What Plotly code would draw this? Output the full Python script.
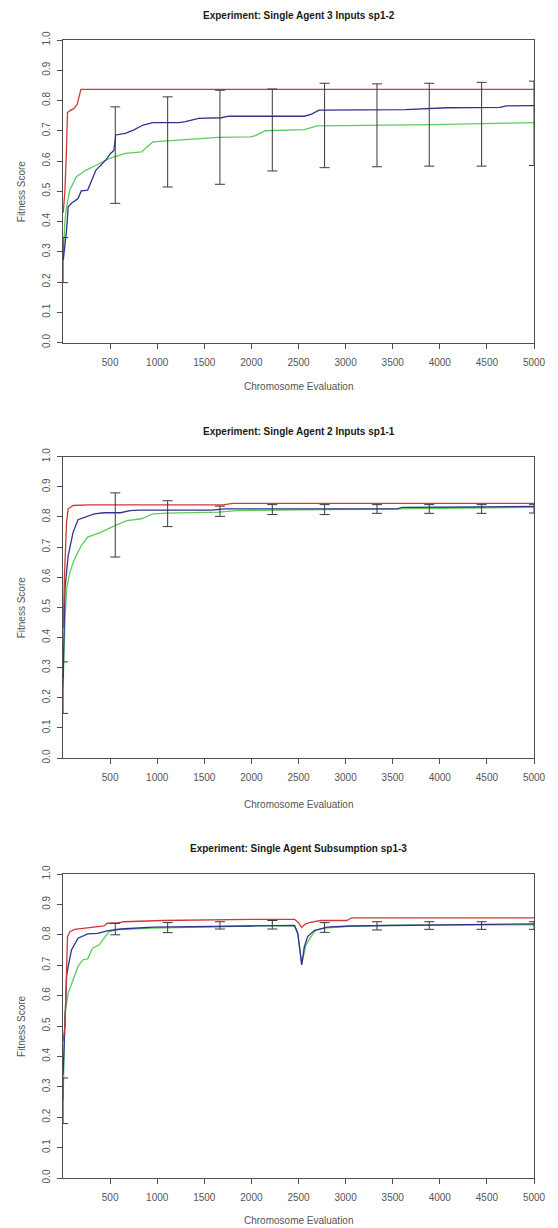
import plotly.graph_objects as go

# ---------------- data ----------------
titles = ["Experiment: Single Agent 3 Inputs sp1-2",
          "Experiment: Single Agent 2 Inputs sp1-1",
          "Experiment: Single Agent Subsumption sp1-3"]
x_title = "Chromosome Evaluation"
y_title = "Fitness Score"
x_ticks = [500, 1000, 1500, 2000, 2500, 3000, 3500, 4000, 4500, 5000]
y_ticks = [0.0, 0.1, 0.2, 0.3, 0.4, 0.5, 0.6, 0.7, 0.8, 0.9, 1.0]

bar_x = [1, 555, 1111, 1666, 2222, 2777, 3333, 3888, 4444, 5000]

# Panel 1
p1_red_x = [3, 20, 35, 48, 80, 110, 150, 190, 5000]
p1_red_y = [0.43, 0.50, 0.62, 0.76, 0.768, 0.772, 0.786, 0.837, 0.837]
p1_blue_x = [3, 21, 38, 55, 90, 159, 194, 262, 350, 453, 505, 540, 560, 661, 747, 851,
             954, 1231, 1300, 1439, 1680, 1760, 2562, 2640, 2718, 3634, 4049, 4080, 4637, 4706, 5000]
p1_blue_y = [0.273, 0.316, 0.372, 0.449, 0.460, 0.476, 0.501, 0.504, 0.570, 0.603, 0.625, 0.635, 0.686,
             0.691, 0.702, 0.719, 0.727, 0.727, 0.730, 0.741, 0.743, 0.748, 0.748, 0.755, 0.768, 0.770,
             0.774, 0.776, 0.777, 0.782, 0.783]
p1_green_x = [1, 21, 38, 73, 142, 246, 350, 488, 661, 833, 954, 1110, 1646, 1992, 2044, 2147,
              2562, 2700, 3945, 4706, 5000]
p1_green_y = [0.272, 0.405, 0.449, 0.504, 0.548, 0.570, 0.586, 0.608, 0.625, 0.630, 0.663, 0.666,
              0.678, 0.680, 0.684, 0.700, 0.704, 0.716, 0.720, 0.725, 0.727]
p1_bar_lo = [0.198, 0.460, 0.514, 0.523, 0.567, 0.578, 0.581, 0.583, 0.583, 0.585]
p1_bar_hi = [0.347, 0.779, 0.812, 0.834, 0.838, 0.857, 0.855, 0.857, 0.860, 0.864]

# Panel 2
p2_red_x = [3, 15, 38, 55, 107, 262, 1700, 1800, 5000]
p2_red_y = [0.43, 0.60, 0.782, 0.827, 0.838, 0.840, 0.840, 0.845, 0.845]
p2_blue_x = [1, 21, 55, 107, 159, 228, 332, 436, 609, 712, 816, 1577, 1715, 3550, 3600, 4400, 5000]
p2_blue_y = [0.264, 0.562, 0.672, 0.749, 0.791, 0.799, 0.810, 0.814, 0.814, 0.821, 0.823, 0.823,
             0.827, 0.827, 0.832, 0.833, 0.835]
p2_green_x = [1, 20, 38, 73, 124, 194, 262, 401, 557, 678, 833, 954, 1110, 1646, 1853, 3600, 5000]
p2_green_y = [0.235, 0.45, 0.562, 0.617, 0.661, 0.705, 0.733, 0.749, 0.772, 0.788, 0.794, 0.810,
              0.813, 0.816, 0.821, 0.827, 0.832]
p2_bar_lo = [0.148, 0.667, 0.768, 0.802, 0.808, 0.808, 0.812, 0.812, 0.812, 0.813]
p2_bar_hi = [0.319, 0.880, 0.854, 0.836, 0.841, 0.841, 0.841, 0.841, 0.841, 0.842]

# Panel 3
p3_red_x = [1, 21, 48, 73, 124, 262, 436, 470, 574, 643, 1058, 1992, 2458, 2500, 2534, 2570,
            2614, 2735, 3012, 3064, 5000]
p3_red_y = [0.45, 0.499, 0.794, 0.810, 0.818, 0.822, 0.829, 0.838, 0.838, 0.843, 0.847, 0.851,
            0.851, 0.840, 0.824, 0.835, 0.840, 0.847, 0.847, 0.856, 0.856]
p3_blue_x = [1, 20, 38, 55, 90, 159, 262, 366, 470, 609, 954, 1992, 2458, 2493, 2534, 2562, 2597,
             2666, 2804, 3046, 3668, 4706, 5000]
p3_blue_y = [0.34, 0.55, 0.663, 0.696, 0.750, 0.789, 0.803, 0.805, 0.813, 0.819, 0.825, 0.829,
             0.831, 0.805, 0.701, 0.761, 0.794, 0.814, 0.825, 0.829, 0.832, 0.836, 0.836]
p3_green_x = [1, 12, 21, 55, 107, 159, 211, 262, 314, 384, 436, 488, 557, 954, 1992, 2458, 2493,
              2534, 2580, 2632, 2683, 2770, 3046, 3500, 5000]
p3_green_y = [0.255, 0.40, 0.542, 0.608, 0.652, 0.696, 0.718, 0.721, 0.756, 0.767, 0.789, 0.810,
              0.816, 0.822, 0.829, 0.830, 0.80, 0.705, 0.767, 0.794, 0.815, 0.822, 0.828, 0.832, 0.833]
p3_bar_lo = [0.179, 0.800, 0.807, 0.819, 0.819, 0.808, 0.816, 0.818, 0.818, 0.818]
p3_bar_hi = [0.329, 0.838, 0.840, 0.843, 0.847, 0.840, 0.843, 0.843, 0.843, 0.843]

panels = [
    (p1_red_x, p1_red_y, p1_blue_x, p1_blue_y, p1_green_x, p1_green_y, p1_bar_lo, p1_bar_hi),
    (p2_red_x, p2_red_y, p2_blue_x, p2_blue_y, p2_green_x, p2_green_y, p2_bar_lo, p2_bar_hi),
    (p3_red_x, p3_red_y, p3_blue_x, p3_blue_y, p3_green_x, p3_green_y, p3_bar_lo, p3_bar_hi),
]

# ---------------- style ----------------
RED = "#cc3a3a"
BLUE = "#32328e"
GREEN = "#5ccc5c"
BAR = "#3a3a3a"
AXC = "#505050"
TXT = "#555555"
FONT = "Liberation Sans, Arial, sans-serif"
TFONT = "Liberation Sans Narrow, Arial Narrow, Liberation Sans, sans-serif"

W, H = 558, 1228
ML, MR, MT, MB = 63, 13, 40, 50
PH = H - MT - MB
PW = W - ML - MR


def py2paper(py):
    return (H - MB - py) / PH


def px2paper(px):
    return (px - ML) / PW


# pixel boxes (top, bottom) for each panel
boxes = [(40, 342.5), (456.7, 758), (874, 1178)]
title_py = [15, 432, 848]
xtitle_py = [387, 804, 1221]

fig = go.Figure()
layout = dict(width=W, height=H, paper_bgcolor="white", plot_bgcolor="white",
              margin=dict(l=ML, r=MR, t=MT, b=MB), showlegend=False, annotations=[])

for i, (rx, ry, bx, by, gx, gy, lo, hi) in enumerate(panels):
    n = "" if i == 0 else str(i + 1)
    xa, ya = "x" + n, "y" + n
    fig.add_trace(go.Scatter(x=gx, y=gy, mode="lines", line=dict(color=GREEN, width=1.3),
                             xaxis=xa, yaxis=ya))
    fig.add_trace(go.Scatter(x=bx, y=by, mode="lines", line=dict(color=BLUE, width=1.3),
                             xaxis=xa, yaxis=ya))
    fig.add_trace(go.Scatter(x=rx, y=ry, mode="lines", line=dict(color=RED, width=1.3),
                             xaxis=xa, yaxis=ya))
    mid = [(a + b) / 2 for a, b in zip(lo, hi)]
    up = [b - m for b, m in zip(hi, mid)]
    dn = [m - a for a, m in zip(lo, mid)]
    fig.add_trace(go.Scatter(x=bar_x, y=mid, mode="markers",
                             marker=dict(size=1, color="rgba(0,0,0,0)"),
                             error_y=dict(type="data", symmetric=False, array=up, arrayminus=dn,
                                          color=BAR, thickness=1, width=5),
                             xaxis=xa, yaxis=ya))
    top, bot = boxes[i]
    layout["xaxis" + n] = dict(domain=[0, 1], range=[0, 5000], anchor=ya,
                               tickvals=x_ticks, ticktext=[str(v) for v in x_ticks],
                               ticks="outside", ticklen=5, tickcolor=AXC, tickwidth=1,
                               showline=True, linecolor=AXC, linewidth=1, mirror=True,
                               showgrid=False, zeroline=False, ticklabelstandoff=5,
                               tickfont=dict(family=FONT, size=10, color=TXT))
    layout["yaxis" + n] = dict(domain=[py2paper(bot), py2paper(top)], range=[0, 1], anchor=xa,
                               tickvals=y_ticks, ticktext=["%.1f" % v for v in y_ticks],
                               tickangle=-90,
                               ticks="outside", ticklen=5, tickcolor=AXC, tickwidth=1,
                               showline=True, linecolor=AXC, linewidth=1, mirror=True,
                               showgrid=False, zeroline=False, ticklabelstandoff=3,
                               tickfont=dict(family=FONT, size=10, color=TXT))
    layout["annotations"].append(dict(text="<b>" + titles[i] + "</b>", xref="paper", yref="paper",
                                      x=px2paper(304), y=py2paper(title_py[i]), showarrow=False,
                                      xanchor="center", yanchor="middle",
                                      font=dict(family=TFONT, size=10, color="#1a1a1a")))
    layout["annotations"].append(dict(text=x_title, xref="paper", yref="paper",
                                      x=px2paper(304), y=py2paper(xtitle_py[i]), showarrow=False,
                                      xanchor="center", yanchor="middle",
                                      font=dict(family=FONT, size=10, color=TXT)))
    layout["annotations"].append(dict(text=y_title, xref="paper", yref="paper",
                                      x=px2paper(20), y=py2paper((top + bot) / 2), showarrow=False,
                                      xanchor="center", yanchor="middle", textangle=-90,
                                      font=dict(family=FONT, size=10, color=TXT)))

fig.update_layout(**layout)
fig.write_html("out.html", config={"displayModeBar": False},
               post_script="document.body.style.margin='0px';document.body.style.overflow='hidden';")
